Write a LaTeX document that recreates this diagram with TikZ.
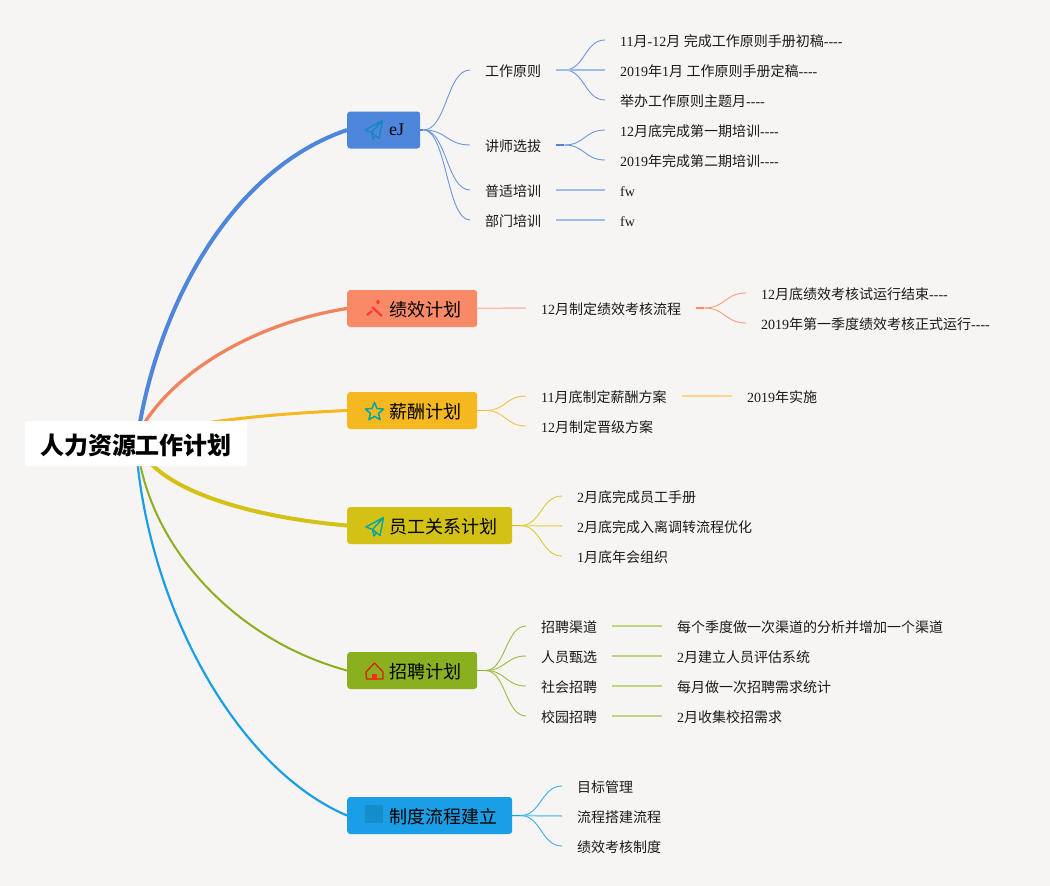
\documentclass[tikz,border=0pt]{standalone}
\usepackage{fontspec}
\setmainfont{Liberation Serif}
\newfontfamily\cjkfont{Noto Sans CJK SC}
\newcommand\zh[1]{{\cjkfont #1}}
\newcommand\dashes{-{}-{}-{}-}
\usetikzlibrary{backgrounds,calc}
\definecolor{bgc}{HTML}{F6F5F3}
\definecolor{cblue}{HTML}{4E86DB}
\definecolor{corange}{HTML}{F98A67}
\definecolor{lorange}{HTML}{F0845E}
\definecolor{cyellow}{HTML}{F5B81F}
\definecolor{colive}{HTML}{D3C215}
\definecolor{cgreen}{HTML}{8BB01F}
\definecolor{ccyan}{HTML}{1A9FE6}
\definecolor{ink}{HTML}{1A1A1A}
\tikzset{
  topic/.style={anchor=west,rounded corners=3pt,fill=#1,minimum height=37pt,
    align=left,inner sep=0pt,font=\fontsize{18}{20}\selectfont,text=black,text height=17pt,text depth=1pt},
  leaf/.style={anchor=west,inner xsep=15pt,inner ysep=0pt,font=\fontsize{14}{16}\selectfont,text=ink,text height=13pt,text depth=1pt},
  mainline/.style={line cap=butt},
  planeicon/.pic={
    \draw[#1,line width=1.4pt,line join=round] (8.5,-9.5) -- (-9,0) -- (-2.5,2.5) -- (8.5,-9.5) -- (5,8.5) -- (-2.5,2.5) -- (-1,9) -- (1.5,5.5);
  }
}
% branch with a short thick stub then a thin curve
\newcommand\curvelink[4][8]{%
  \draw[#4,line width=1.8pt] (#2.east) -- ++(#1,0) coordinate (stubend);
  \draw[#4!85,line width=.9pt] let \p1=(stubend),\p2=(#3.west),\n1={(\x1+\x2)/2} in
    (\p1) .. controls (\n1,\y1) and (\n1,\y2) .. (\p2);
}
\newcommand\straightlink[3]{\draw[#3!55,line width=1.5pt] (#1.east) -- (#2.west);}
\begin{document}
\begin{tikzpicture}[x=1pt,y=-1pt]
\useasboundingbox (0,0) rectangle (1050,886);

% title
\node[fill=white,rounded corners=3pt,minimum width=222pt,minimum height=45pt,inner sep=0pt,text=black,
  font=\fontsize{24}{26}\selectfont,text height=21.5pt,text depth=.5pt] (title) at (136,443.5) {\cjkfont\bfseries 人力资源工作计划};
\coordinate (hb) at (139,428);
\coordinate (ho) at (139,432);
\coordinate (hy) at (190,426);
\coordinate (hl) at (146,458);
\coordinate (hg) at (139,458);
\coordinate (hc) at (137,458);

% main topics
\node[topic=cblue] (t1) at (347,130) {\hspace{42pt}\raisebox{2.5pt}{eJ}\hspace{16pt}};
\node[topic=corange] (t2) at (347,308.5) {\hspace{42pt}\zh{绩效计划}\hspace{16pt}};
\node[topic=cyellow] (t3) at (347,410.5) {\hspace{42pt}\zh{薪酬计划}\hspace{16pt}};
\node[topic=colive] (t4) at (347,525.5) {\hspace{42pt}\zh{员工关系计划}\hspace{15pt}};
\node[topic=cgreen] (t5) at (347,670.5) {\hspace{42pt}\zh{招聘计划}\hspace{16pt}};
\node[topic=ccyan] (t6) at (347,815.5) {\hspace{42pt}\zh{制度流程建立}\hspace{15pt}};

% background and main connectors, under the title and topics
\begin{pgfonlayer}{background}
\fill[bgc] (0,0) rectangle (1050,886);
\draw[mainline,cblue,line width=4pt] (hb) .. controls (160,305) and (230,170) .. (t1.west);
\draw[mainline,lorange,line width=3.3pt] (ho) .. controls (172,372) and (255,323) .. (t2.west);
\draw[mainline,cyellow,line width=3pt] (hy) .. controls (230,418) and (290,413) .. (t3.west);
\draw[mainline,colive,line width=4pt] (hl) .. controls (175,495) and (260,518) .. (t4.west);
\draw[mainline,cgreen,line width=2pt] (hg) .. controls (155,550) and (235,640) .. (t5.west);
\draw[mainline,ccyan,line width=2.2pt] (hc) .. controls (152,615) and (240,770) .. (t6.west);
\end{pgfonlayer}

% branch 1
\node[leaf] (a1) at (470,70) {\zh{工作原则}};
\node[leaf] (a2) at (470,145) {\zh{讲师选拔}};
\node[leaf] (a3) at (470,190) {\zh{普适培训}};
\node[leaf] (a4) at (470,220) {\zh{部门培训}};
\node[leaf] (a11) at (605,40) {11\zh{月}-12\zh{月} \zh{完成工作原则手册初稿}\dashes};
\node[leaf] (a12) at (605,70) {2019\zh{年}1\zh{月} \zh{工作原则手册定稿}\dashes};
\node[leaf] (a13) at (605,100) {\zh{举办工作原则主题月}\dashes};
\node[leaf] (a21) at (605,130) {12\zh{月底完成第一期培训}\dashes};
\node[leaf] (a22) at (605,160) {2019\zh{年完成第二期培训}\dashes};
\node[leaf] (a31) at (605,190) {fw};
\node[leaf] (a41) at (605,220) {fw};
% branch 2
\node[leaf] (b1) at (526,308) {12\zh{月制定绩效考核流程}};
\node[leaf] (b11) at (746,293) {12\zh{月底绩效考核试运行结束}\dashes};
\node[leaf] (b12) at (746,323) {2019\zh{年第一季度绩效考核正式运行}\dashes};
% branch 3
\node[leaf] (c1) at (526,396) {11\zh{月底制定薪酬方案}};
\node[leaf] (c2) at (526,426) {12\zh{月制定晋级方案}};
\node[leaf] (c11) at (732,396) {2019\zh{年实施}};
% branch 4
\node[leaf] (d1) at (562,496) {2\zh{月底完成员工手册}};
\node[leaf] (d2) at (562,526) {2\zh{月底完成入离调转流程优化}};
\node[leaf] (d3) at (562,556) {1\zh{月底年会组织}};
% branch 5
\node[leaf] (e1) at (526,626) {\zh{招聘渠道}};
\node[leaf] (e2) at (526,656) {\zh{人员甄选}};
\node[leaf] (e3) at (526,686) {\zh{社会招聘}};
\node[leaf] (e4) at (526,716) {\zh{校园招聘}};
\node[leaf] (e11) at (662,626) {\zh{每个季度做一次渠道的分析并增加一个渠道}};
\node[leaf] (e21) at (662,656) {2\zh{月建立人员评估系统}};
\node[leaf] (e31) at (662,686) {\zh{每月做一次招聘需求统计}};
\node[leaf] (e41) at (662,716) {2\zh{月收集校招需求}};
% branch 6
\node[leaf] (f1) at (562,786) {\zh{目标管理}};
\node[leaf] (f2) at (562,816) {\zh{流程搭建流程}};
\node[leaf] (f3) at (562,846) {\zh{绩效考核制度}};

% connectors
\curvelink[3]{t1}{a1}{cblue}
\curvelink[3]{t1}{a2}{cblue}
\curvelink[3]{t1}{a3}{cblue}
\curvelink[3]{t1}{a4}{cblue}
\curvelink{a1}{a11}{cblue}
\curvelink{a1}{a13}{cblue}
\straightlink{a1}{a12}{cblue}
\curvelink{a2}{a21}{cblue}
\curvelink{a2}{a22}{cblue}
\straightlink{a3}{a31}{cblue}
\straightlink{a4}{a41}{cblue}
\straightlink{t2}{b1}{corange}
\curvelink{b1}{b11}{corange}
\curvelink{b1}{b12}{corange}
\curvelink{t3}{c1}{cyellow}
\curvelink{t3}{c2}{cyellow}
\straightlink{c1}{c11}{cyellow}
\curvelink{t4}{d1}{colive}
\straightlink{t4}{d2}{colive}
\curvelink{t4}{d3}{colive}
\curvelink{t5}{e1}{cgreen}
\curvelink{t5}{e2}{cgreen}
\curvelink{t5}{e3}{cgreen}
\curvelink{t5}{e4}{cgreen}
\straightlink{e1}{e11}{cgreen}
\straightlink{e2}{e21}{cgreen}
\straightlink{e3}{e31}{cgreen}
\straightlink{e4}{e41}{cgreen}
\curvelink{t6}{f1}{ccyan}
\straightlink{t6}{f2}{ccyan}
\curvelink{t6}{f3}{ccyan}

% icons
\pic at (374,130) {planeicon={ccyan!85!black}};
\draw[red!70!pink,line width=2.2pt] (372,307) -- (382,316);
\draw[red!70!pink,line width=2.2pt] (367,315) -- (372,311);
\fill[red!70!pink] (378,299.5) -- (380,302) -- (378,304.5) -- (376,302) -- cycle;
\draw[teal!70!cyan,line width=1.5pt,line join=round,shift={(374.5,412)}]
  (270:9.5) -- (306:4.3) -- (342:9.5) -- (18:4.3) -- (54:9.5) -- (90:4.3) -- (126:9.5) -- (162:4.3) -- (198:9.5) -- (234:4.3) -- cycle;
\pic at (375,527) {planeicon={teal!70!cyan}};
\draw[red!70!orange!85!black,line width=1.3pt,line join=round] (366,672) -- (374.5,663) -- (383,672) -- (383,679) -- (366.5,679) -- cycle;
\fill[red!80!pink] (372,673.5) rectangle (377,679.5);
\fill[ccyan!88!black] (365,805) rectangle (383,823);
\end{tikzpicture}
\end{document}
